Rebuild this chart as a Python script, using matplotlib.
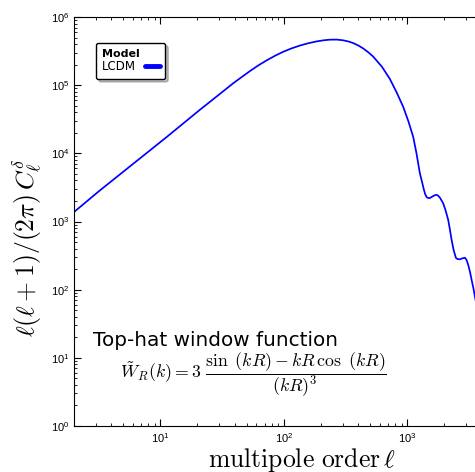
import numpy as np
import matplotlib
matplotlib.use("Agg")
import matplotlib.pyplot as plt

# ----------------------------
# dati (multipolo, spettro)
# ----------------------------
ell = [2, 3.22, 6.0, 11.2, 20.8, 30, 38.8, 45, 53, 62, 72.4, 85, 98.7, 115, 135,
       158, 184, 210, 236, 270, 303, 335, 365, 400, 440, 485, 530, 625, 723, 820,
       928, 1020, 1119, 1190, 1268, 1320, 1365, 1400, 1435, 1480, 1527, 1580,
       1630, 1690, 1750, 1800, 1850, 1958, 2050, 2151, 2220, 2292, 2380, 2484,
       2560, 2678, 2800, 2939, 3030, 3126, 3230, 3328, 3440, 3540, 3650]
cl_delta = [1377, 2830, 6970, 1.72e4, 4.31e4, 7.3e4, 1.06e5, 1.29e5, 1.60e5, 1.94e5,
            2.30e5, 2.70e5, 3.08e5, 3.45e5, 3.81e5, 4.12e5, 4.38e5, 4.55e5, 4.65e5,
            4.66e5, 4.55e5, 4.37e5, 4.15e5, 3.84e5, 3.46e5, 3.03e5, 2.63e5, 1.86e5,
            1.24e5, 7.9e4, 4.83e4, 3.0e4, 1.75e4, 1.0e4, 5.1e3, 3.8e3, 2950, 2510,
            2290, 2210, 2210, 2290, 2370, 2445, 2450, 2345, 2210, 1849, 1445, 1052,
            760, 535, 380, 292, 281, 279, 288, 294, 272, 230, 182, 139, 105, 79, 59]

model_name = "LCDM"
legend_title = "Model"

plt.rcParams['font.family'] = ['Liberation Sans', 'DejaVu Sans']
plt.rcParams['mathtext.fontset'] = 'cm'

fig = plt.figure(figsize=(4.75, 4.72), dpi=100)
ax = fig.add_axes([74 / 475, 46 / 472, 456.6 / 475, 409 / 472])

ax.plot(ell, cl_delta, color='blue', lw=1.25, label=model_name)

ax.set_xscale('log')
ax.set_yscale('log')
ax.set_xlim(2, 1e4)
ax.set_ylim(1, 1e6)
ax.set_xticks([10, 100, 1000])

ax.tick_params(which='both', direction='in', top=True, right=True, labelsize=8)
ax.tick_params(which='major', length=5, width=0.8)
ax.tick_params(which='minor', length=2.5, width=0.6)

ax.set_xlabel(r'$\mathrm{multipole\ order}\,\ell$', fontsize=18.5, labelpad=1)
ax.set_ylabel(r'$\ell(\ell+1)/(2\pi)\,C_\ell^\delta$', fontsize=18.5)
ax.yaxis.set_label_coords(-0.066, 0.435)

# testo finestra top-hat
ax.text((93 - 74) / 456.6, (426 - 346) / 409, "Top-hat window function",
        transform=ax.transAxes, fontsize=14.4, family='DejaVu Sans', va='baseline')
ax.text((120 - 74) / 456.6, (426 - 375) / 409,
        r'$\tilde{W}_R(k) = 3\ \dfrac{\sin\ (kR) - kR\,\cos\ (kR)}{(kR)^3}$',
        transform=ax.transAxes, fontsize=12.8, va='center')

leg = ax.legend(loc='upper left', bbox_to_anchor=(22 / 456.6, (426 - 43) / 409),
                borderaxespad=0, title=legend_title, fancybox=True,
                shadow={'ox': 2, 'oy': -2, 'alpha': 0.35},
                markerfirst=False, handlelength=1.2, handletextpad=0.8,
                borderpad=0.5, labelspacing=0.3, fontsize=8.5,
                title_fontproperties={'weight': 'bold', 'size': 8, 'family': 'DejaVu Sans'},
                prop={'family': 'DejaVu Sans', 'size': 8.5}, alignment='left',
                edgecolor='black', framealpha=1)
leg._legend_box.sep = 1
for h in leg.legend_handles:
    h.set_linewidth(3.5)
    h.set_solid_capstyle('round')

fig.savefig("out.png", dpi=100)
